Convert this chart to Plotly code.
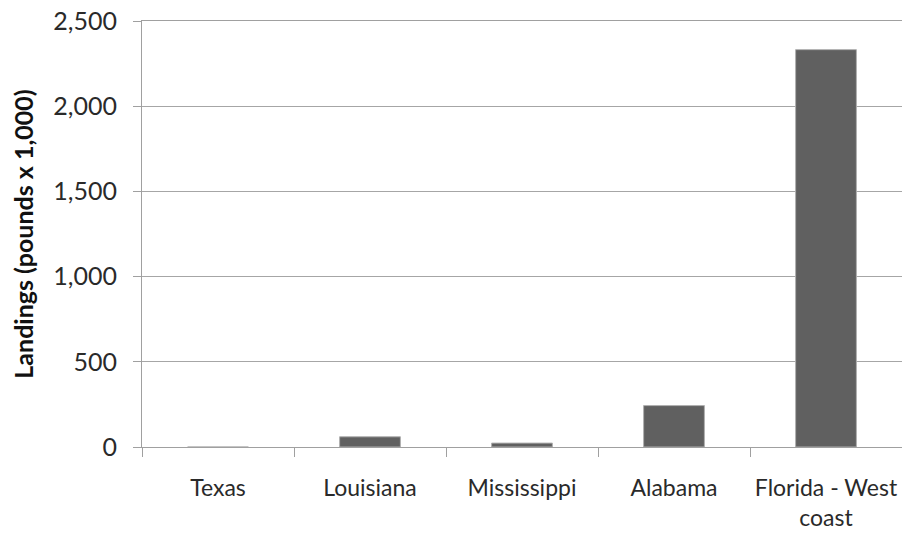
import plotly.graph_objects as go

categories = ["Texas", "Louisiana", "Mississippi", "Alabama", "Florida - West<br>coast"]
landings = [0, 60, 23, 243, 2332]
y_ticks = [0, 500, 1000, 1500, 2000, 2500]
y_tick_labels = ["0", "500", "1,000", "1,500", "2,000", "2,500"]

fig = go.Figure(go.Bar(
    x=categories, y=landings,
    marker=dict(color="#606060", line=dict(color="#b0b0b0", width=1)),
))

font_family = "Lato, 'Open Sans', sans-serif"
fig.update_layout(
    width=902, height=533,
    margin=dict(l=142, r=0, t=21, b=86, autoexpand=False),
    plot_bgcolor="white", paper_bgcolor="white",
    bargap=0.6,
    showlegend=False,
    font=dict(family=font_family, size=25, color="#2a2a2a"),
)
fig.update_xaxes(
    tickson="boundaries", ticks="outside", ticklen=9, tickcolor="#a0a0a0",
    tickangle=0, automargin=False, ticklabelstandoff=20,
    ticklabeloverflow="allow",
    showline=True, linecolor="#a0a0a0", linewidth=1, mirror=True,
    showgrid=False, tickfont=dict(size=23, color="#2a2a2a"),
)
fig.update_yaxes(
    range=[0, 2500], tickvals=y_ticks, ticktext=y_tick_labels,
    ticks="outside", ticklen=8, tickcolor="#a0a0a0", automargin=False,
    ticklabelstandoff=11, ticklabeloverflow="allow",
    showline=True, linecolor="#a0a0a0", linewidth=1,
    showgrid=True, gridcolor="#a6a6a6", gridwidth=1,
    zeroline=False,
    tickfont=dict(size=25, color="#2a2a2a"),
    title=dict(text="<b>Landings (pounds x 1,000)</b>", font=dict(size=25, color="#111"), standoff=12),
)
fig.write_html(
    "out.html",
    config={"displayModeBar": False},
    post_script="document.body.style.margin='0';document.body.style.overflow='hidden';",
)
